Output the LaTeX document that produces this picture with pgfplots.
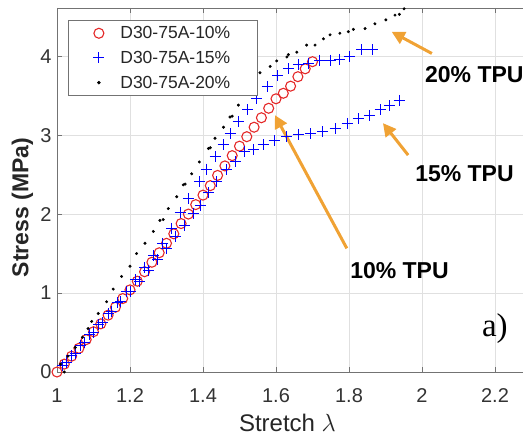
\documentclass[border=0pt]{standalone}
\usepackage{pgfplots}
\pgfplotsset{compat=1.18}
\usepackage{fontspec}
\setmainfont{Liberation Sans}
\newfontfamily\serifA{Liberation Serif}
\usetikzlibrary{arrows.meta}
\definecolor{arrowor}{RGB}{240,162,52}
\definecolor{redc}{RGB}{228,40,40}
\begin{document}
\begin{tikzpicture}
\useasboundingbox (0,0) rectangle (523bp,437bp);
\clip (0,0) rectangle (523bp,437bp);
\begin{axis}[
  at={(57bp,65bp)}, anchor=south west,
  scale only axis, width=511bp, height=364bp,
  xmin=1, xmax=2.4, ymin=0, ymax=4.61,
  xtick={1,1.2,1.4,1.6,1.8,2,2.2},
  ytick={0,1,2,3,4},
  extra x ticks={2.4}, extra x tick labels={},
  tick align=inside, major tick length=5bp,
  tick label style={font=\fontsize{20bp}{24bp}\selectfont, text=black!80},
  /pgf/number format/assume math mode=true,
  xticklabel style={yshift=-13bp},
  yticklabel style={xshift=-2bp},
  grid=major, grid style={black!12, line width=0.6bp},
  axis line style={black!55, line width=0.8bp},
  tick style={black!55, line width=0.8bp},
  clip=false,
  xlabel={Stretch $\lambda$},
  xlabel style={at={(rel axis cs:0.451,0)}, anchor=base, yshift=-59bp, font=\fontsize{24bp}{28bp}\selectfont, text=black!85},
  ylabel={Stress (MPa)},
  ylabel style={at={(rel axis cs:-0.0675,0.452)}, anchor=center, font=\bfseries\fontsize{23bp}{27bp}\selectfont, text=black!85},
  legend style={at={(0.0215,0.967)}, anchor=north west, draw=black!55, line width=0.8bp,
    font=\fontsize{17.5bp}{20bp}\selectfont, text=black!85, row sep=7bp, inner xsep=25bp, inner ysep=4bp},
  legend cell align=left,
]
\addplot[only marks, mark=o, mark size=5bp, draw=redc, mark options={line width=1.1bp}] coordinates {
(1.00,0.00) (1.02,0.10) (1.04,0.20) (1.06,0.30) (1.08,0.41) (1.10,0.51)
(1.12,0.61) (1.14,0.72) (1.16,0.82) (1.18,0.93) (1.20,1.04) (1.22,1.15)
(1.24,1.27) (1.26,1.39) (1.28,1.51) (1.30,1.63) (1.32,1.75) (1.34,1.88)
(1.36,2.00) (1.38,2.12) (1.40,2.24) (1.42,2.36) (1.44,2.49) (1.46,2.61)
(1.48,2.74) (1.50,2.86) (1.52,2.98) (1.54,3.10) (1.56,3.22) (1.58,3.34)
(1.60,3.46) (1.62,3.53) (1.64,3.62) (1.66,3.74) (1.68,3.84) (1.70,3.93)
};
\addlegendentry{\hspace{14bp}D30-75A-10\%\hspace{-17bp}}
\addplot[only marks, mark=+, mark size=5.5bp, draw=blue, mark options={line width=1.0bp}] coordinates {
(1.015,0.08) (1.04,0.21) (1.065,0.34) (1.09,0.47) (1.115,0.60) (1.14,0.74)
(1.165,0.88) (1.19,1.02) (1.215,1.17) (1.24,1.32) (1.265,1.47) (1.29,1.63)
(1.315,1.82) (1.337,2.02) (1.36,2.20) (1.39,2.41) (1.41,2.57) (1.433,2.73)
(1.455,2.88) (1.474,3.02) (1.496,3.17) (1.523,3.32) (1.547,3.47) (1.576,3.61)
(1.605,3.75) (1.634,3.84) (1.661,3.89) (1.689,3.91) (1.72,3.95) (1.748,3.95)
(1.774,3.96) (1.801,4.00) (1.835,4.08) (1.865,4.08)
(1.025,0.12) (1.05,0.24) (1.075,0.37) (1.10,0.50) (1.125,0.63) (1.15,0.76)
(1.175,0.89) (1.20,1.02) (1.225,1.15) (1.25,1.28) (1.275,1.42) (1.30,1.56)
(1.325,1.71) (1.35,1.86) (1.373,2.01) (1.392,2.11) (1.415,2.27) (1.437,2.41)
(1.465,2.56) (1.488,2.66) (1.515,2.79) (1.538,2.82) (1.565,2.88) (1.595,2.93)
(1.629,2.98) (1.661,3.01) (1.695,3.02) (1.728,3.04) (1.762,3.08) (1.795,3.15)
(1.826,3.21) (1.856,3.25) (1.885,3.32) (1.912,3.37) (1.937,3.44)
};
\addlegendentry{\hspace{14bp}D30-75A-15\%\hspace{-17bp}}
\addplot[only marks, mark=*, mark size=1.3bp, draw=black, fill=black] coordinates {
(1.02,0.00) (1.01,0.10) (1.03,0.20) (1.05,0.31) (1.07,0.44) (1.085,0.55)
(1.095,0.64) (1.113,0.74) (1.136,0.89) (1.154,1.05) (1.177,1.21) (1.20,1.34)
(1.218,1.50) (1.241,1.63) (1.264,1.78) (1.282,1.92) (1.291,1.93) (1.305,2.07)
(1.328,2.22) (1.346,2.37) (1.351,2.38) (1.369,2.51) (1.39,2.66) (1.415,2.83)
(1.42,2.84) (1.433,2.96) (1.456,3.10) (1.474,3.23) (1.48,3.24) (1.497,3.38)
(1.52,3.54) (1.538,3.67) (1.556,3.79) (1.584,3.87) (1.602,3.94) (1.63,3.99)
(1.634,4.02) (1.657,4.05) (1.684,4.14) (1.707,4.14) (1.73,4.22) (1.748,4.27)
(1.775,4.29) (1.798,4.31) (1.812,4.34) (1.844,4.35) (1.871,4.41) (1.901,4.46)
(1.926,4.52) (1.938,4.53) (1.951,4.60)
};
\addlegendentry{\hspace{14bp}D30-75A-20\%\hspace{-17bp}}
% annotations
\draw[arrowor, line width=3bp, -{Triangle[width=13bp,length=13bp]}] (axis cs:2.027,4.034) -- (axis cs:1.917,4.308);
\draw[arrowor, line width=3bp, -{Triangle[width=13bp,length=13bp]}] (axis cs:1.962,2.747) -- (axis cs:1.893,3.152);
\draw[arrowor, line width=3bp, -{Triangle[width=13bp,length=13bp]}] (axis cs:1.794,1.566) -- (axis cs:1.597,3.253);
\node[anchor=base west, inner sep=0pt, font=\bfseries\fontsize{23bp}{27bp}\selectfont] at (axis cs:2.008,3.662) {20\% TPU};
\node[anchor=base west, inner sep=0pt, font=\bfseries\fontsize{23bp}{27bp}\selectfont] at (axis cs:1.981,2.409) {15\% TPU};
\node[anchor=base west, inner sep=0pt, font=\bfseries\fontsize{23bp}{27bp}\selectfont] at (axis cs:1.803,1.186) {10\% TPU};
\node[anchor=base west, inner sep=0pt, font=\serifA\fontsize{33bp}{38bp}\selectfont] at (axis cs:2.164,0.447) {a)};
\end{axis}
\end{tikzpicture}
\end{document}
